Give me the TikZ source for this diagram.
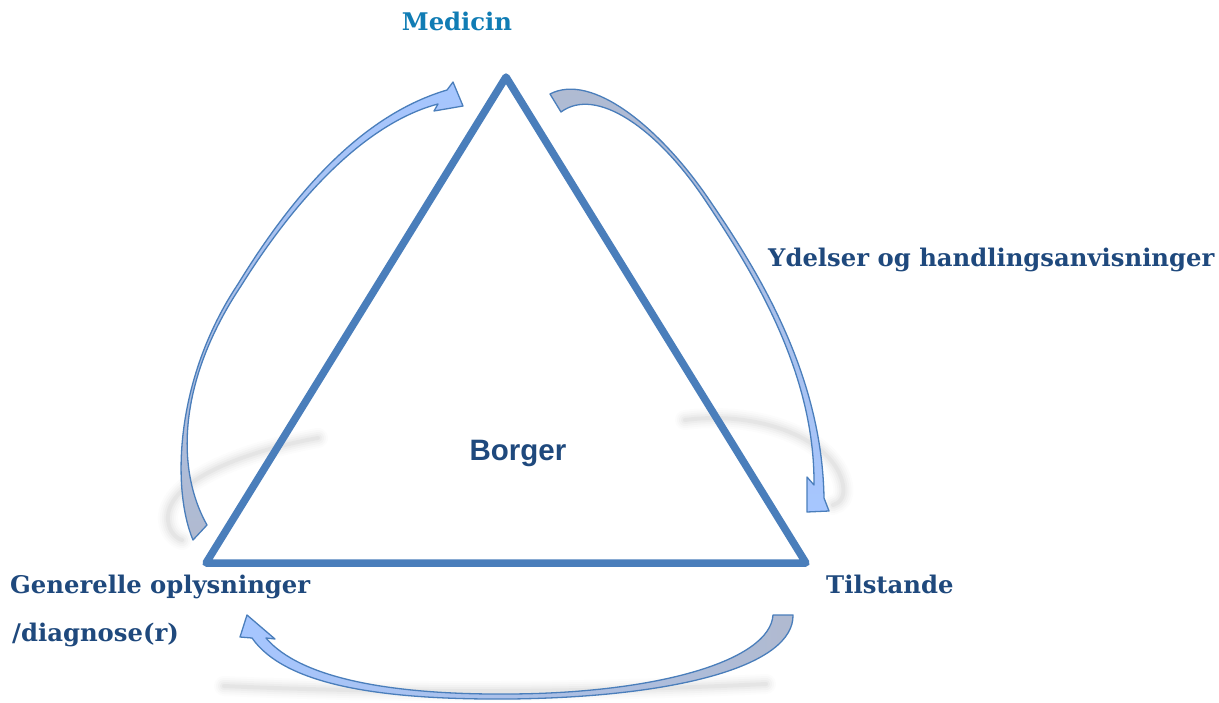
\documentclass[tikz,border=0pt]{standalone}
\usepackage{fontspec}
\setmainfont{DejaVu Serif}
\newfontfamily\labsans{Liberation Sans}
\definecolor{tri}{RGB}{74,126,187}
\definecolor{navy}{RGB}{31,73,125}
\definecolor{medc}{RGB}{16,124,180}
\definecolor{tailc}{RGB}{176,186,208}
\definecolor{headc}{RGB}{166,198,255}
\tikzset{
  lab/.style={font=\bfseries\fontsize{24.3}{29}\selectfont, text=navy, inner sep=0pt},
  bentarrow/.style={draw=tri, line width=1.3pt, line join=round},
  shadowstroke/.style={line cap=round, draw=gray!70!black}
}
\begin{document}
\begin{tikzpicture}[x=1pt,y=-1pt]
\useasboundingbox (0,0) rectangle (1219,702);
% soft shadows
\foreach \w/\o in {20/0.02, 16/0.025, 12/0.03, 8/0.04, 4/0.05}{
  \draw[shadowstroke, line width=\w pt, opacity=\o] (318,438) .. controls (250,450) and (165,480) .. (168,520) .. controls (169,532) and (176,538) .. (182,540);
  \draw[shadowstroke, line width=\w pt, opacity=\o] (685,420) .. controls (760,410) and (835,440) .. (843,485) .. controls (845,497) and (840,503) .. (833,505);
  \draw[shadowstroke, line width=\w pt, opacity=\o] (224,686) .. controls (400,694) and (600,692) .. (766,684);
}
% triangle
\coordinate (top) at (506,77);
\coordinate (bl) at (206,563);
\coordinate (br) at (806,563);
\draw[tri, line width=7.5pt, line join=round] (top) -- (bl) -- (br) -- cycle;
% arrow left (up to Medicin)
\path[bentarrow, top color=headc, bottom color=tailc]
  (193,540) .. controls (172,490) and (174,380) .. (238,284)
  .. controls (298,186) and (366,114) .. (447,90)
  -- (453,82) -- (463,106) -- (434,111) -- (438,104)
  .. controls (370,122) and (301,190) .. (241,286)
  .. controls (177,382) and (176,470) .. (207,525) -- cycle;
% arrow right (down to Tilstande)
\path[bentarrow, top color=tailc, bottom color=headc]
  (550,94) .. controls (592,72) and (660,128) .. (708,198)
  .. controls (756,268) and (822,372) .. (824,498)
  -- (829,511) -- (807,512) -- (807,477) -- (814,485)
  .. controls (815,372) and (753,272) .. (705,200)
  .. controls (657,128) and (596,86) .. (561,112) -- cycle;
% arrow bottom (left to Generelle oplysninger)
\path[bentarrow, left color=headc, right color=tailc]
  (793,615) .. controls (794,665) and (680,697) .. (510,699)
  .. controls (380,700) and (285,685) .. (252,638)
  -- (240,637) -- (247,615) -- (275,639) -- (266,638)
  .. controls (300,678) and (390,695) .. (510,694)
  .. controls (660,693) and (770,660) .. (773,615) -- cycle;
% labels
\node[lab, text=medc, anchor=base] (med) at (457,30) {Medicin};
\node[lab, anchor=base west] (yd) at (768,266) {Ydelser og handlingsanvisninger};
\node[lab, anchor=base west] (til) at (826,593) {Tilstande};
\node[lab, anchor=base west] (gen) at (10,593) {Generelle oplysninger};
\node[lab, anchor=base west] (dia) at (12,641) {/diagnose(r)};
\node[font=\labsans\bfseries\fontsize{29.5}{33}\selectfont, text=navy, inner sep=0pt, anchor=base] (borg) at (518,460) {Borger};
\end{tikzpicture}
\end{document}
